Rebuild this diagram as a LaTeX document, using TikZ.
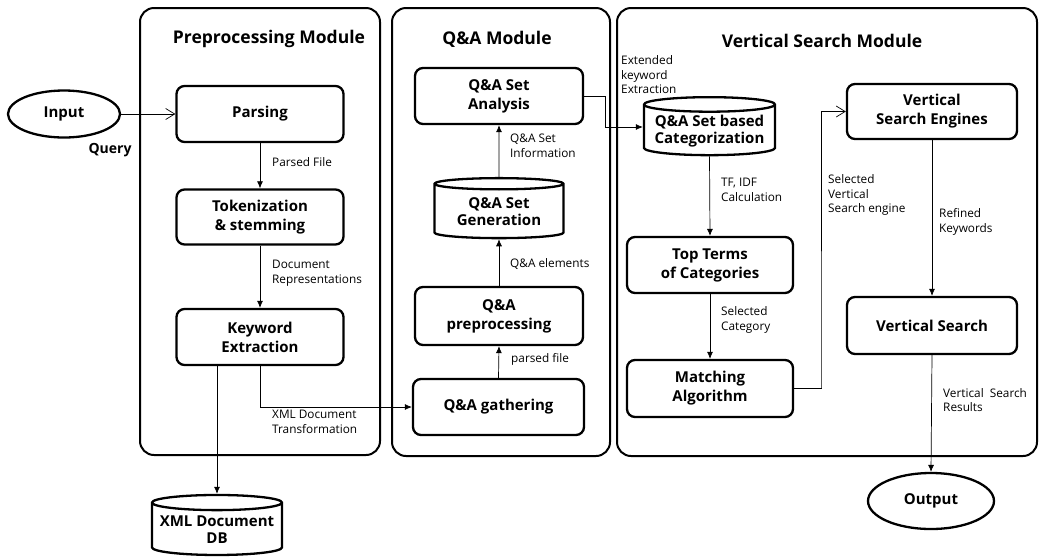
\documentclass[tikz,border=0pt]{standalone}
\usepackage{fontspec}
\setmainfont{Open Sans}
\usetikzlibrary{arrows.meta,shapes.geometric}
\begin{document}
\begin{tikzpicture}[x=1pt,y=-1pt,
  frame/.style={draw,line width=2pt,rounded corners=14pt},
  title/.style={font=\bfseries\fontsize{17.5}{20}\selectfont},
  box/.style={draw,line width=2.3pt,rounded corners=8pt,minimum width=167pt,minimum height=56pt,align=center,inner sep=2pt,font=\bfseries\fontsize{15}{19}\selectfont},
  db/.style={draw,line width=2.3pt,cylinder,shape border rotate=90,aspect=0.13,align=center,inner sep=1pt,font=\bfseries\fontsize{15}{17}\selectfont},
  term/.style={draw,line width=2.3pt,ellipse,inner sep=0pt,font=\bfseries\fontsize{15}{17}\selectfont},
  lbl/.style={align=left,inner sep=0pt,anchor=west,font=\fontsize{11.8}{14.5}\selectfont},
  conn/.style={line width=0.7pt,-{Latex[length=7pt,width=6pt]}},
  openc/.style={line width=0.7pt,-{Straight Barb[length=9pt,width=11pt,line width=0.7pt]}}
]
\useasboundingbox (0,0) rectangle (1039,558);
% frames
\draw[frame] (140,8) rectangle (380,455);
\draw[frame] (392,8) rectangle (610,456);
\draw[frame] (617,8) rectangle (1037,456);
\node[title] (t1) at (269,39) {Preprocessing Module};
\node[title] (t2) at (497,39) {Q\&A Module};
\node[title] (t3) at (822,41) {Vertical Search Module};
% preprocessing
\node[term,minimum width=112pt,minimum height=47pt] (input) at (64,114) {Input};
\node[font=\bfseries\fontsize{14}{16}\selectfont,inner sep=0pt] (query) at (110,150) {Query};
\node[box] (parsing) at (260,114) {Parsing};
\node[box,minimum height=55pt] (token) at (260,217) {Tokenization\\\& stemming};
\node[box] (keyword) at (260,337) {Keyword\\Extraction};
\node[db,minimum width=130pt,minimum height=60pt] (xmldb) at (217,530) {XML Document\\DB};
% Q&A
\node[box,minimum width=168pt] (analysis) at (499,96) {Q\&A Set\\Analysis};
\node[db,minimum width=129pt,minimum height=60pt] (gen) at (499,212) {Q\&A Set\\Generation};
\node[box,minimum width=168pt,minimum height=58pt] (prep) at (499,316) {Q\&A\\preprocessing};
\node[box,minimum width=171pt] (gather) at (498.5,407) {Q\&A gathering};
% Vertical search
\node[db,minimum width=131pt,minimum height=58pt] (cat) at (709.5,131) {Q\&A Set based\\Categorization};
\node[box,minimum width=166pt] (top) at (710,265) {Top Terms\\of Categories};
\node[box,minimum width=166pt,minimum height=57pt] (match) at (710,388.5) {Matching\\Algorithm};
\node[box,minimum width=170pt,minimum height=55pt] (vse) at (932,111.5) {Vertical\\Search Engines};
\node[box,minimum width=170pt,minimum height=57pt] (vs) at (932,325.5) {Vertical Search};
\node[term,minimum width=126pt,minimum height=56pt] (output) at (931,501) {Output};
% junction coordinates
\coordinate (j1) at (605,127);
\coordinate (j2) at (821,388);
% connectors
\draw[openc] (input.east) -- (parsing.west);
\draw[conn] (parsing.south) -- (token.north);
\draw[conn] (token.south) -- (keyword.north);
\draw[conn] (keyword.south -| xmldb.north) -- (xmldb.north);
\draw[conn] (keyword.south) |- (gather.west);
\draw[conn] (gather.north) -- (prep.south);
\draw[conn] (prep.north) -- (gen.south);
\draw[conn] (gen.north) -- (analysis.south);
\draw[conn] (analysis.east) -| (j1) -- (cat.west |- j1);
\draw[conn] (cat.south) -- (top.north);
\draw[conn] (top.south) -- (match.north);
\draw[openc] (match.east) -| (j2) |- (vse.west);
\draw[conn] (vse.south) -- (vs.north);
\draw[conn] (vs.south) -- (output.north);
% labels
\node[lbl] (l1) at (272,162) {Parsed File};
\node[lbl] (l2) at (272,273) {Document\\Representations};
\node[lbl] (l3) at (272,422) {XML Document\\Transformation};
\node[lbl] (l4) at (510,146) {Q\&A Set\\Information};
\node[lbl] (l5) at (510,264) {Q\&A elements};
\node[lbl] (l6) at (511,359) {parsed file};
\node[lbl] (l7) at (621,75) {Extended\\keyword\\Extraction};
\node[lbl] (l8) at (721,190) {TF, IDF\\Calculation};
\node[lbl] (l9) at (721,320) {Selected\\Category};
\node[lbl] (l10) at (828,195) {Selected\\Vertical\\Search engine};
\node[lbl] (l11) at (939,222) {Refined\\Keywords};
\node[lbl] (l12) at (943,400) {Vertical\ \ Search\\Results};
\end{tikzpicture}
\end{document}
